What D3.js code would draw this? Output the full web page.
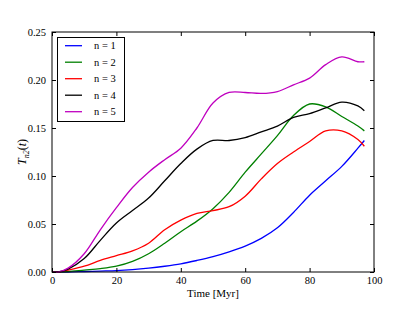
<!DOCTYPE html>
<html><head><meta charset="utf-8">
<script src="https://cdn.jsdelivr.net/npm/d3@7"></script>
<style>body{margin:0;background:#fff}svg{display:block}text{font-family:"Liberation Serif","DejaVu Serif",serif;fill:#000}</style>
</head><body><div id="chart"></div>
<script>
const times = [0,2,5,10,15,20,25,30,35,40,45,50,55,60,65,70,75,80,85,90,95,97];
const n1 = [0,0,0,0.0005,0.001,0.0015,0.0025,0.004,0.006,0.0085,0.012,0.016,0.021,0.027,0.035,0.046,0.062,0.080,0.095,0.110,0.129,0.137];
const n2 = [0,0,0.0005,0.002,0.0035,0.006,0.011,0.019,0.030,0.042,0.053,0.066,0.083,0.104,0.123,0.142,0.163,0.175,0.172,0.162,0.152,0.147];
const n3 = [0,0,0.002,0.006,0.012,0.017,0.022,0.030,0.044,0.054,0.061,0.064,0.068,0.079,0.097,0.113,0.125,0.136,0.147,0.147,0.138,0.131];
const n4 = [0,0,0.003,0.014,0.033,0.051,0.064,0.077,0.095,0.113,0.128,0.137,0.137,0.140,0.146,0.152,0.161,0.165,0.171,0.177,0.173,0.168];
const n5 = [0,0,0.004,0.019,0.044,0.067,0.088,0.104,0.117,0.129,0.150,0.176,0.187,0.187,0.186,0.188,0.195,0.202,0.216,0.224,0.219,0.219];
const seriesNames = ["n = 1","n = 2","n = 3","n = 4","n = 5"];
const seriesValues = [n1,n2,n3,n4,n5];
const colors = ["#0000ff","#008000","#ff0000","#000000","#bf00bf"];
const xTicks = [0,20,40,60,80,100];
const yTicks = [0,0.05,0.10,0.15,0.20,0.25];

const W=415,H=312,m={l:52,r:41,t:32,b:40};
const svg=d3.select("#chart").append("svg").attr("width",W).attr("height",H);
const x=d3.scaleLinear().domain([0,100]).range([m.l,W-m.r]);
const y=d3.scaleLinear().domain([0,0.25]).range([H-m.b,m.t]);

const line=d3.line().x((d,i)=>x(times[i])).y(d=>y(d)).curve(d3.curveCatmullRom.alpha(0.5));
const g=svg.append("g");
seriesValues.forEach((vals,k)=>{
  g.append("path").datum(vals).attr("d",line).attr("fill","none")
   .attr("stroke",colors[k]).attr("stroke-width",1.3);
});

const fs=10.5;
function styleAxis(a){a.select(".domain").remove();a.selectAll("line").attr("stroke","#000");a.selectAll("text").attr("font-size",fs).attr("font-family","Liberation Serif");}
svg.append("g").attr("transform",`translate(0,${H-m.b})`).call(d3.axisBottom(x).tickValues(xTicks).tickSize(-4).tickPadding(5).tickFormat(d3.format("d"))).call(styleAxis);
svg.append("g").attr("transform",`translate(0,${m.t})`).call(d3.axisTop(x).tickValues(xTicks).tickSize(-4).tickFormat("")).call(styleAxis);
svg.append("g").attr("transform",`translate(${m.l},0)`).call(d3.axisLeft(y).tickValues(yTicks).tickSize(-4).tickPadding(6).tickFormat(d3.format(".2f"))).call(styleAxis);
svg.append("g").attr("transform",`translate(${W-m.r},0)`).call(d3.axisRight(y).tickValues(yTicks).tickSize(-4).tickFormat("")).call(styleAxis);

svg.append("rect").attr("x",m.l).attr("y",m.t).attr("width",W-m.l-m.r).attr("height",H-m.t-m.b)
  .attr("fill","none").attr("stroke","#000").attr("stroke-width",1);

svg.append("text").attr("x",(m.l+W-m.r)/2).attr("y",297).attr("text-anchor","middle").attr("font-size",11).text("Time [Myr]");
const yl=svg.append("text").attr("transform",`translate(26,${(m.t+H-m.b)/2}) rotate(-90)`).attr("text-anchor","middle").attr("font-size",12);
yl.append("tspan").attr("font-style","italic").text("T");
yl.append("tspan").attr("font-size",8).attr("font-style","italic").attr("dy",3).text("n2");
yl.append("tspan").attr("dy",-3).text("(");
yl.append("tspan").attr("font-style","italic").text("t");
yl.append("tspan").text(")");

const lg=svg.append("g");
lg.append("rect").attr("x",57.5).attr("y",37.5).attr("width",67).attr("height",84).attr("fill","#fff").attr("stroke","#000").attr("stroke-width",1);
seriesNames.forEach((nm,k)=>{
  const yy=45.7+k*16.5;
  lg.append("line").attr("x1",65).attr("x2",82).attr("y1",yy).attr("y2",yy).attr("stroke",colors[k]).attr("stroke-width",1.3);
  lg.append("text").attr("x",94).attr("y",yy+3.5).attr("font-size",fs).text(nm);
});
</script></body></html>
